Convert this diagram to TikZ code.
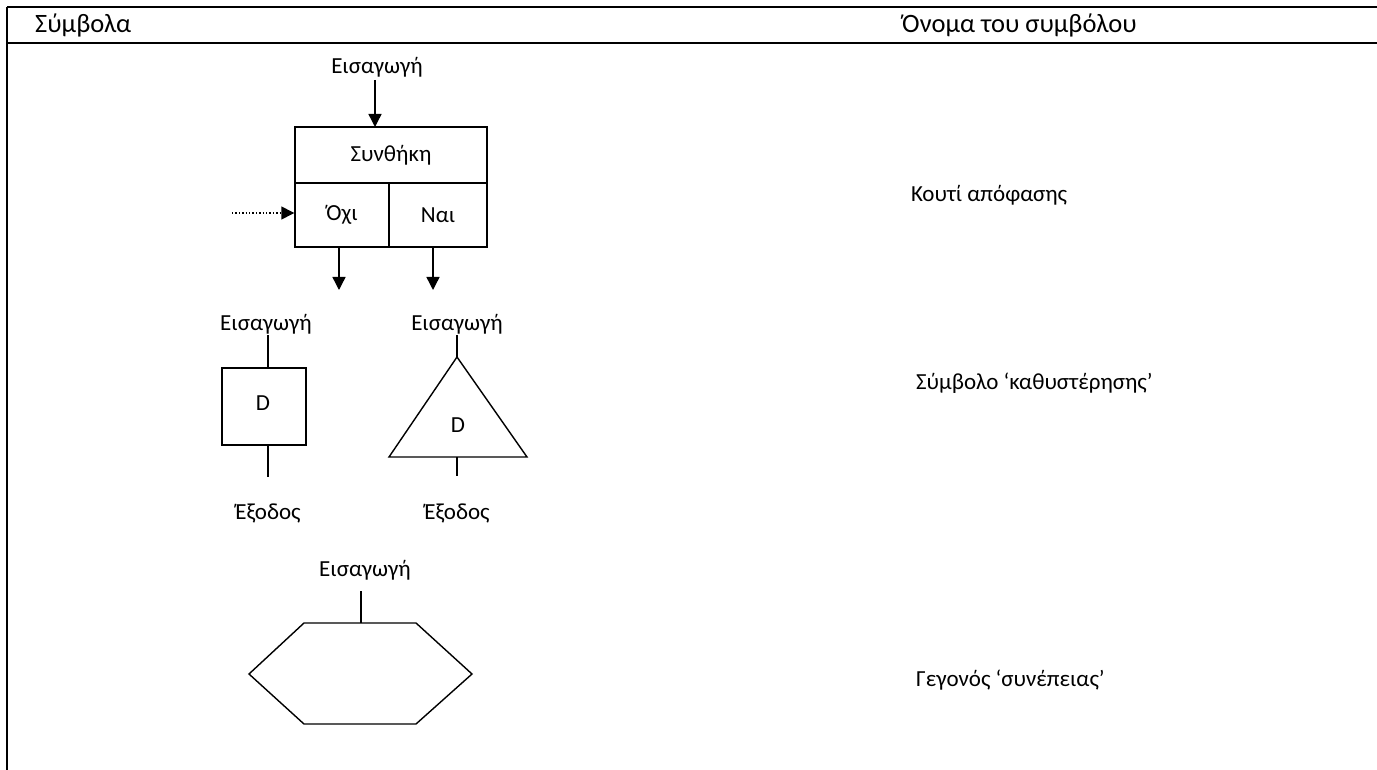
\documentclass[tikz,border=0pt]{standalone}
\usepackage{fontspec}
\setmainfont{Carlito}
\usetikzlibrary{arrows.meta}
\begin{document}
\begin{tikzpicture}[x=1pt,y=-1pt,
  txt/.style={inner sep=0pt, font=\fontsize{23}{26}\selectfont},
  head/.style={inner sep=0pt, font=\fontsize{26.5}{30}\selectfont},
  cell/.style={draw, line width=1.4pt, minimum height=#1, inner sep=0pt, font=\fontsize{23}{26}\selectfont},
  shp/.style={draw, line width=1.4pt, line join=miter},
  arr/.style={line width=1.4pt, -{Triangle[length=13pt,width=13pt]}},
  tline/.style={line width=2.2pt}]
\useasboundingbox (0,0) rectangle (1377,770);

% table frame
\coordinate (tl) at (7,7);
\coordinate (tr) at (1377,7);
\coordinate (hl) at (7,43);
\coordinate (hr) at (1377,43);
\coordinate (bl) at (7,770);
\draw[tline] (tl) -- (tr);
\draw[tline] (hl) -- (hr);
\draw[tline] (tl) -- (bl);
\node[head, anchor=west] (h1) at (35,25) {Σύμβολα};
\node[head, anchor=west] (h2) at (902,25) {Όνομα του συμβόλου};

% decision box
\node[cell=56pt, minimum width=192pt] (cond) at (391,155) {Συνθήκη};
\node[cell=64pt, minimum width=94pt] (no) at (342,215) {Όχι};
\node[cell=64pt, minimum width=98pt] (yes) at (438,215) {Ναι};
\node[txt] (in1) at (377,67) {Εισαγωγή};
\draw[arr] (375,80) -- (375,127);
\coordinate (dots) at (232,213);
\draw[line width=1.4pt, dotted, -{Triangle[length=13pt,width=13pt]}] (dots) -- (dots -| no.west);
\coordinate (noout) at (339,290);
\coordinate (yesout) at (433,290);
\draw[arr] (noout |- no.south) -- (noout);
\draw[arr] (yesout |- yes.south) -- (yesout);
\node[txt, anchor=west] (l1) at (911,195) {Κουτί απόφασης};

% delay: square
\node[txt] (in2) at (266,324) {Εισαγωγή};
\node[cell=77pt, minimum width=84pt] (sq) at (264,406.5) {};
\node[txt] (d1) at (263,403) {D};
\draw[line width=1.4pt] (268,335) -- (268,368);
\draw[line width=1.4pt] (268,445) -- (268,477);
\node[txt] (out1) at (268,513) {Έξοδος};

% delay: triangle
\node[txt] (in3) at (457,324) {Εισαγωγή};
\coordinate (apex) at (457,357);
\coordinate (bleft) at (389,457);
\coordinate (bright) at (527,457);
\draw[shp] (apex) -- (bright) -- (bleft) -- cycle;
\node[txt] (d2) at (458,425) {D};
\draw[line width=1.4pt] (457,335) -- (apex);
\draw[line width=1.4pt] (457,457) -- (457,476);
\node[txt] (out2) at (457,513) {Έξοδος};
\node[txt, anchor=west] (l2) at (916,383) {Σύμβολο ‘καθυστέρησης’};

% consequence event: hexagon
\node[txt] (in4) at (365,570) {Εισαγωγή};
\coordinate (hx1) at (304,623);
\coordinate (hx2) at (416,623);
\coordinate (hx3) at (472,674);
\coordinate (hx4) at (416,724);
\coordinate (hx5) at (304,724);
\coordinate (hx6) at (249,674);
\draw[shp] (hx1) -- (hx2) -- (hx3) -- (hx4) -- (hx5) -- (hx6) -- cycle;
\draw[line width=1.4pt] (361,591) -- (361,623);
\node[txt, anchor=west] (l3) at (916,680) {Γεγονός ‘συνέπειας’};
\end{tikzpicture}
\end{document}
